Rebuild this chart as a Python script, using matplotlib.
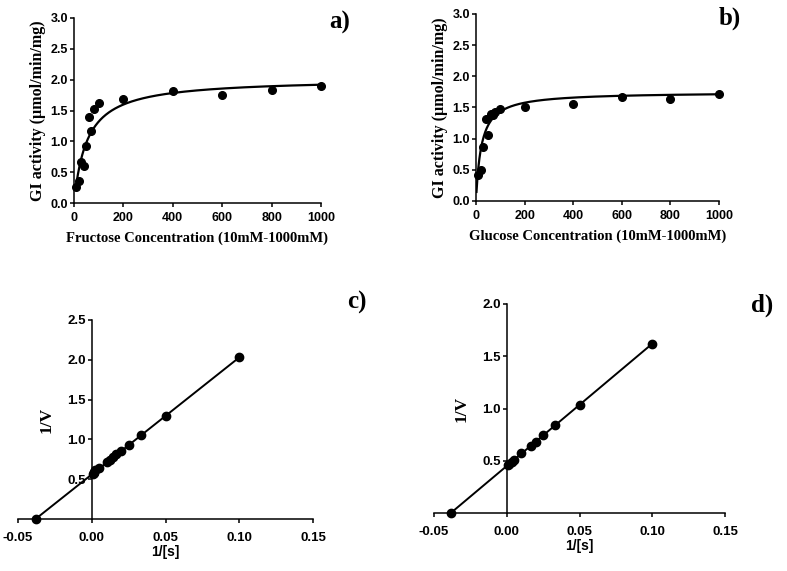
import matplotlib
matplotlib.use("Agg")
import matplotlib.pyplot as plt
import numpy as np

matplotlib.rcParams.update({
    "font.family": "Liberation Sans",
    "font.weight": "bold",
    "xtick.labelsize": 9,
    "ytick.labelsize": 9,
    "xtick.major.size": 3.2,
    "ytick.major.size": 3.2,
    "xtick.major.width": 1.1,
    "ytick.major.width": 1.1,
    "xtick.major.pad": 3.5,
    "ytick.major.pad": 1.2,
    "axes.linewidth": 1.1,
})

SERIF = "Liberation Serif"

# ── Data ─────────────────────────────────────────────────────────────────
# a) fructose saturation
fru_conc = [10, 20, 30, 40, 50, 60, 70, 80, 100, 200, 400, 600, 800, 1000]
fru_act = [0.26, 0.36, 0.66, 0.60, 0.93, 1.39, 1.16, 1.52, 1.62, 1.69, 1.81, 1.75, 1.84, 1.89]
fru_vmax, fru_km = 2.02, 53.0
fru_curve_start = 10

# b) glucose saturation
glu_conc = [10, 20, 30, 40, 50, 60, 70, 80, 100, 200, 400, 600, 800, 1000]
glu_act = [0.41, 0.49, 0.87, 1.32, 1.06, 1.39, 1.38, 1.43, 1.47, 1.51, 1.56, 1.67, 1.63, 1.71]
glu_vmax, glu_km = 1.75, 22.0
glu_curve_start = 2

# c) Lineweaver-Burk, fructose
c_inv_s = [0.001, 0.00125, 0.00167, 0.0025, 0.005, 0.01, 0.0125, 0.0143, 0.0167, 0.02,
           0.025, 0.0333, 0.05, 0.1]
c_inv_v = [0.57, 0.58, 0.59, 0.61, 0.64, 0.71, 0.74, 0.78, 0.82, 0.85,
           0.93, 1.05, 1.30, 2.03]
c_slope, c_intercept = 14.7, 0.56

# d) Lineweaver-Burk, glucose
d_inv_s = [0.0011, 0.0018, 0.0036, 0.005, 0.01, 0.0167, 0.02, 0.025, 0.0333, 0.05, 0.1]
d_inv_v = [0.46, 0.47, 0.49, 0.51, 0.57, 0.64, 0.68, 0.75, 0.84, 1.03, 1.62]
d_slope, d_intercept = 11.7, 0.45

W, H = 787, 571


def px_axes(fig, left, top, right, bottom):
    return fig.add_axes([left / W, 1 - bottom / H, (right - left) / W, (bottom - top) / H])


def mm_panel(ax, conc, act, vmax, km, start, xlabel):
    xs = np.linspace(start, 1000, 500)
    ax.plot(xs, vmax * xs / (km + xs), color="black", lw=1.6, zorder=2)
    ax.plot(conc, act, "o", color="black", ms=5.5, clip_on=False, zorder=3)
    ax.set_xlim(0, 1000)
    ax.set_ylim(0, 3.0)
    ax.set_xticks([0, 200, 400, 600, 800, 1000])
    ax.set_yticks(np.arange(0, 3.01, 0.5))
    ax.yaxis.set_major_formatter(matplotlib.ticker.FormatStrFormatter("%.1f"))
    ax.spines["top"].set_visible(False)
    ax.spines["right"].set_visible(False)
    ax.set_xlabel(xlabel, family=SERIF, fontsize=10.5, fontweight="bold", labelpad=5)
    ax.set_ylabel("GI activity (µmol/min/mg)", family=SERIF, fontsize=11.5,
                  fontweight="bold", labelpad=3)


def lb_panel(ax, inv_s, inv_v, slope, intercept, ymax):
    x0 = -intercept / slope
    xs = np.array([x0, max(inv_s)])
    ax.plot(xs, intercept + slope * xs, color="black", lw=1.4, zorder=2)
    ax.plot(inv_s, inv_v, "o", color="black", ms=6, clip_on=False, zorder=3)
    ax.plot([x0], [0], "o", color="black", ms=6, clip_on=False, zorder=3)
    ax.set_xlim(-0.05, 0.15)
    ax.set_ylim(0, ymax)
    ax.spines["left"].set_position(("data", 0))
    ax.spines["bottom"].set_position(("data", 0))
    ax.spines["top"].set_visible(False)
    ax.spines["right"].set_visible(False)
    ax.set_xticks([-0.05, 0.0, 0.05, 0.10, 0.15])
    ax.xaxis.set_major_formatter(matplotlib.ticker.FormatStrFormatter("%.2f"))
    ax.tick_params(axis="x", labelsize=9.5, pad=6)
    ax.tick_params(axis="y", labelsize=9.5)
    ax.set_yticks(np.arange(0.5, ymax + 0.01, 0.5))
    ax.yaxis.set_major_formatter(matplotlib.ticker.FormatStrFormatter("%.1f"))
    ax.set_xlabel("1/[s]", fontsize=10, fontweight="bold", labelpad=1)
    ax.set_ylabel("1/V", family=SERIF, fontsize=12.5, fontweight="bold", labelpad=9)


fig = plt.figure(figsize=(W / 100, H / 100), dpi=100)

ax_a = px_axes(fig, 74, 18, 321, 203)
mm_panel(ax_a, fru_conc, fru_act, fru_vmax, fru_km, fru_curve_start,
         "Fructose Concentration (10mM-1000mM)")

ax_b = px_axes(fig, 476, 14, 719, 201)
mm_panel(ax_b, glu_conc, glu_act, glu_vmax, glu_km, glu_curve_start,
         "Glucose Concentration (10mM-1000mM)")

ax_c = px_axes(fig, 18, 320, 313, 519)
lb_panel(ax_c, c_inv_s, c_inv_v, c_slope, c_intercept, 2.5)

ax_d = px_axes(fig, 434, 304, 725, 513)
lb_panel(ax_d, d_inv_s, d_inv_v, d_slope, d_intercept, 2.0)

for lab, (x, y) in zip(["a)", "b)", "c)", "d)"],
                       [(340, 22), (730, 18), (357, 302), (762, 305)]):
    fig.text(x / W, 1 - y / H, lab, family=SERIF, fontsize=18, fontweight="bold",
             ha="center", va="center")

fig.savefig("out.png", dpi=100)
